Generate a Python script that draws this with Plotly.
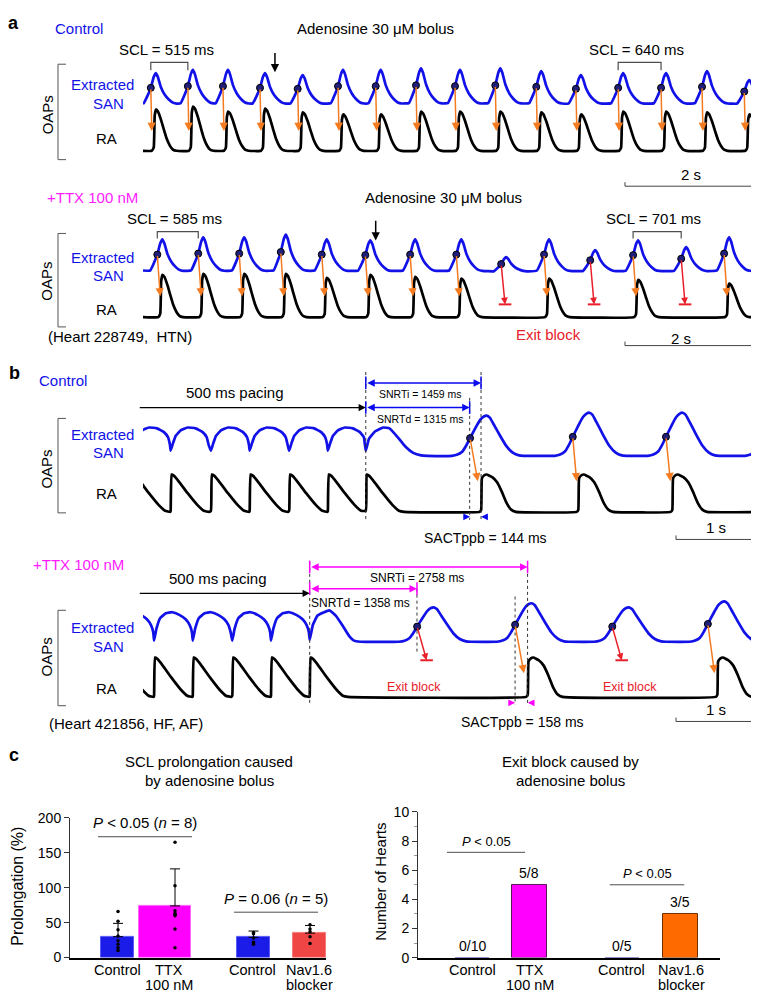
import plotly.graph_objects as go

W, H = 759, 994
FONT = "Liberation Sans, Arial, Helvetica, sans-serif"
BLUE = "#1212E8"
DOTC = "#1F1F7A"
ORANGE = "#F47B20"
RED = "#E8202A"
MAG = "#FF1AFF"
GRAY = "#4D4D4D"

# ================= DATA =================
# ---- Panel a, Control: SAN activation times (s) and relative amplitudes
A1_SAN_T = [0.12, 0.69, 1.23, 1.80, 2.38, 3.00, 3.58, 4.20, 4.80, 5.42, 6.05, 6.66, 7.31, 7.97, 8.60, 9.25]
A1_SAN_AMP = [1.0, 1.1, 1.1, 1.0, 0.94, 1.1, 1.1, 1.15, 1.1, 1.15, 1.06, 0.94, 1.0, 1.0, 1.06, 0.78]
A1_RA_AMP = [1.0, 1.07, 0.95, 1.02, 0.93, 0.88, 0.88, 0.95, 0.95, 0.95, 0.93, 0.88, 0.95, 0.95, 0.93, 0.88]
A1_BOLUS_T = 2.03
A1_SCL_MS = [515, 640]
A1_SCL_BEAT = [0, 12]

# ---- Panel a, +TTX (RA amplitude 0 = exit block)
A2_SAN_T = [0.22, 0.85, 1.48, 2.12, 2.75, 3.42, 4.11, 4.82, 5.51, 6.17, 6.88, 7.54, 8.28, 8.94]
A2_SAN_AMP = [1.0, 1.06, 1.06, 1.15, 1.0, 0.97, 1.0, 1.0, 0.45, 1.0, 0.67, 0.97, 0.76, 1.06]
A2_RA_AMP = [1.0, 1.02, 1.02, 1.02, 0.93, 1.0, 0.95, 0.91, 0.0, 0.91, 0.0, 0.88, 0.0, 0.79]
A2_BOLUS_T = 3.58
A2_SCL_MS = [585, 701]
A2_SCL_BEAT = [0, 11]
A_SACT_S = 0.045
A_SCALEBAR_S = 2.0

# ---- Panel b, Control
B1_PACE_T = [-0.14, 0.35, 0.86, 1.35, 1.85, 2.34, 2.82]
B1_SNRTD_MS = 1315
B1_SNRTI_MS = 1459
B1_SACT_MS = 144
B1_SAN_T = [4.14, 5.44, 6.62, 7.85]
B1_SAN_AMP = [0.95, 1.02, 1.02, 1.0]
B1_CONDUCTED = [True, True, True, False]
B1_RA_T = [4.28, 5.51, 6.70]

# ---- Panel b, +TTX
B2_PACE_T = [-0.35, 0.14, 0.63, 1.13, 1.62, 2.11]
B2_SNRTD_MS = 1358
B2_SNRTI_MS = 2758
B2_SACT_MS = 158
B2_SAN_T = [3.47, 4.71, 5.94, 7.15]
B2_SAN_AMP = [0.92, 1.03, 0.92, 1.08]
B2_CONDUCTED = [False, True, False, True]
B2_RA_T = [4.87, 7.27]
B_SCALEBAR_S = 1.0

# ---- Waveform shapes read from single beats (ms from activation, normalised amplitude)
A_SAN = [(-110, 0.04), (-46, 0.3), (0, 0.53), (46, 0.88), (77, 1.0), (108, 0.88), (154, 0.56),
         (215, 0.31), (277, 0.16), (340, 0.06), (400, 0.03)]
A_RA = [(-30, 0.0), (0, 0.08), (15, 0.85), (35, 1.0), (65, 0.95), (110, 0.76), (155, 0.52),
        (200, 0.29), (250, 0.12), (295, 0.03), (350, 0.0)]
B1_SAN_PACED = [(0, 0.12), (30, 0.3), (63, 0.47), (127, 0.6), (215, 0.67), (316, 0.65), (405, 0.56),
                (456, 0.44), (481, 0.26)]
B1_SAN_RECOV = [(0, 0.12), (40, 0.4), (120, 0.58), (220, 0.67), (300, 0.65), (400, 0.45), (500, 0.22),
                (600, 0.07), (700, 0.01), (780, 0.0)]
B2_SAN_PACED = [(0, 0.03), (30, 0.35), (76, 0.63), (150, 0.76), (230, 0.79), (320, 0.72), (400, 0.6),
                (450, 0.45), (480, 0.25)]
B2_SAN_RECOV = [(0, 0.05), (40, 0.45), (100, 0.7), (250, 0.84), (330, 0.7), (420, 0.42), (500, 0.15),
                (560, 0.03), (640, 0.0)]
B_SAN_SPONT = [(-230, 0.0), (-160, 0.03), (-100, 0.1), (-50, 0.25), (0, 0.44), (70, 0.7), (130, 0.9),
               (175, 0.98), (210, 1.0), (250, 0.95), (300, 0.78), (380, 0.5), (460, 0.24), (540, 0.08),
               (620, 0.01), (680, 0.0)]
B_RA_PACED = [(0, 0.03), (12, 1.0), (40, 0.97), (90, 0.85), (215, 0.5), (340, 0.18), (420, 0.03), (485, 0.0)]
B_RA_SPONT = [(-20, 0.0), (0, 0.05), (10, 0.9), (40, 0.98), (70, 1.0), (140, 0.93), (200, 0.8),
              (260, 0.55), (320, 0.25), (380, 0.06), (440, 0.0)]

# ---- Panel c
C1_LABELS = [["Control"], ["TTX", "100 nM"], ["Control"], ["Nav1.6", "blocker"]]
C1_MEAN = [30, 74, 29, 35]
C1_SD = [19, 53, 9, 11]
C1_POINTS = [[66, 52, 40, 31, 24, 19, 14, 10],
             [165, 103, 67, 63, 62, 60, 41, 14],
             [36, 34, 28, 22, 19],
             [47, 41, 37, 30, 20]]
C1_P_TEXT = ["<i>P</i> < 0.05 (<i>n</i> = 8)", "<i>P</i> = 0.06 (<i>n</i> = 5)"]
C2_LABELS = [["Control"], ["TTX", "100 nM"], ["Control"], ["Nav1.6", "blocker"]]
C2_COUNT = [0, 5, 0, 3]
C2_N = [10, 8, 5, 5]
C2_P_TEXT = ["<i>P</i> < 0.05", "<i>P</i> < 0.05"]

# ================= LAYOUT CONSTANTS =================
X0P, X1P = 135, 757
PAN = {
    'a1': dict(ax=('x', 'y'), zero=137, ppu=42, lo=-0.95, hi=2.2, pxs=65, base=1.12, bs=0.76),
    'a2': dict(ax=('x2', 'y2'), zero=306, ppu=43, lo=-0.8, hi=2.2, pxs=65, base=1.07, bs=0.767),
    'b1': dict(ax=('x3', 'y3'), zero=504, ppu=38, lo=-0.8, hi=3.8, pxs=79, base=1.5, bs=1.13),
    'b2': dict(ax=('x4', 'y4'), zero=692, ppu=40, lo=-0.7, hi=3.5, pxs=79, base=1.4, bs=0.95),
}
for p in PAN.values():
    p['xmax'] = (X1P - X0P) / p['pxs']

fig = go.Figure()
ann = []
shapes = []


def txt(text, x, y, size=15, color='black', bold=False, angle=0, xanchor='center'):
    if bold:
        text = '<b>' + text + '</b>'
    ann.append(dict(text=text, x=x / W, y=1 - y / H, xref='paper', yref='paper', showarrow=False,
                    font=dict(size=size, color=color, family=FONT), xanchor=xanchor,
                    yanchor='middle', textangle=angle))


def arrow(p, x, y, axv, ayv, color, width=1.5, head=2, size=1.0, side='end'):
    xr, yr = p['ax']
    ann.append(dict(text='', x=x, y=y, ax=axv, ay=ayv, xref=xr, yref=yr, axref=xr, ayref=yr,
                    showarrow=True, arrowhead=head, arrowsize=size, arrowwidth=width,
                    arrowcolor=color, arrowside=side, startarrowhead=head, startarrowsize=size))


def line(p, xs, ys, color, width, dash=None, smooth=False):
    xr, yr = p['ax']
    ln = dict(color=color, width=width)
    if dash:
        ln['dash'] = dash
    if smooth:
        ln['shape'] = 'spline'
        ln['smoothing'] = 0.35
    fig.add_trace(go.Scatter(x=xs, y=ys, mode='lines', line=ln, xaxis=xr, yaxis=yr,
                             hoverinfo='skip', showlegend=False))


def markers(p, xs, ys, symbol, size, color, lcolor, lwidth):
    xr, yr = p['ax']
    fig.add_trace(go.Scatter(x=xs, y=ys, mode='markers', xaxis=xr, yaxis=yr, hoverinfo='skip',
                             showlegend=False, cliponaxis=False,
                             marker=dict(symbol=symbol, size=size, color=color,
                                         line=dict(color=lcolor, width=lwidth))))


def build(events, x0, x1):
    evs = sorted(events, key=lambda e: e[0])
    xs, ys = [], []
    for i, (t0, tmpl, sc, off) in enumerate(evs):
        limit = None
        if i + 1 < len(evs):
            limit = evs[i + 1][0] + evs[i + 1][1][0][0] / 1000.0
        for dt, a in tmpl:
            t = t0 + dt / 1000.0
            if limit is not None and t >= limit:
                break
            if xs and t <= xs[-1]:
                continue
            xs.append(t)
            ys.append(off + sc * a)
    if xs[0] > x0:
        xs.insert(0, x0)
        ys.insert(0, ys[0])
    if xs[-1] < x1:
        xs.append(x1)
        ys.append(ys[-1])
    return xs, ys


def scalebar(p, t_end, length, ybar, ytick):
    line(p, [t_end - length, t_end - length, t_end, t_end], [ytick, ybar, ybar, ytick], '#444', 1)


# ---------------- Panel a ----------------
def panel_a(p, san_t, san_amp, ra_amp, tip, dx, eb_tip, eb_dx, bolus_t, bolus_y, scl_ms, scl_beat,
            br_top, br_end):
    a0 = dict(A_SAN)[0]
    ev_s = [(t, A_SAN, p['bs'] * a, p['base']) for t, a in zip(san_t, san_amp)]
    ev_r = [(t + A_SACT_S, A_RA, a, 0.0) for t, a in zip(san_t, ra_amp) if a > 0]
    bx, by = build(ev_s, 0, p['xmax'])
    kx, ky = build(ev_r, 0, p['xmax'])
    line(p, bx, by, BLUE, 2.7, smooth=True)
    line(p, kx, ky, 'black', 2.7, smooth=True)
    dy = [p['base'] + p['bs'] * a * a0 for a in san_amp]
    for t, yv, ra in zip(san_t, dy, ra_amp):
        if ra > 0:
            arrow(p, t + dx, tip, t, yv, ORANGE, width=1.5, size=1.1)
        else:
            arrow(p, t + eb_dx, eb_tip, t, yv, RED, width=1.5, size=0.9)
    eb = [(t + eb_dx, eb_tip) for t, ra in zip(san_t, ra_amp) if ra <= 0]
    if eb:
        markers(p, [e[0] for e in eb], [e[1] for e in eb], 'line-ew', 9, RED, RED, 2)
    markers(p, san_t, dy, 'circle', 7, DOTC, 'black', 1)
    # adenosine bolus arrow
    arrow(p, bolus_t, bolus_y, bolus_t, bolus_y + 0.5, 'black', width=1.5, size=1.1)
    # SCL brackets
    for ms, i in zip(scl_ms, scl_beat):
        t1, t2 = san_t[i], san_t[i + 1]
        line(p, [t1, t1, t2, t2], [br_end, br_top, br_top, br_end], GRAY, 1.2)
        ann.append(dict(text='SCL = %d ms' % ms, x=(t1 + t2) / 2 - 0.05, y=br_top, xref=p['ax'][0],
                        yref=p['ax'][1], showarrow=False, yshift=13,
                        font=dict(size=15, family=FONT, color='black')))


pa1 = PAN['a1']
panel_a(pa1, A1_SAN_T, A1_SAN_AMP, A1_RA_AMP, 0.48, 0.015, 0.3, 0.06, A1_BOLUS_T, 1.9,
        A1_SCL_MS, A1_SCL_BEAT, 2.14, 1.95)
scalebar(pa1, 9.415, A_SCALEBAR_S, -0.857, -0.76)
pa2 = PAN['a2']
panel_a(pa2, A2_SAN_T, A2_SAN_AMP, A2_RA_AMP, 0.49, 0.045, 0.3, 0.06, A2_BOLUS_T, 1.81,
        A2_SCL_MS, A2_SCL_BEAT, 2.02, 1.86)
scalebar(pa2, 9.415, A_SCALEBAR_S, -0.674, -0.58)


# ---------------- Panel b ----------------
def panel_b(p, pace_t, paced_tmpl, recov_tmpl, san_t, san_amp, conducted, ra_t, snrtd, snrti, color,
            tip, eb_tip, eb_dx, y_pace, y_snrti, y_snrtd, y_sact, dotted):
    s0 = dict(B_SAN_SPONT)[0]
    ev_s = [(t, paced_tmpl, p['bs'], p['base']) for t in pace_t[:-1]]
    ev_s.append((pace_t[-1], recov_tmpl, p['bs'], p['base']))
    ev_s += [(t, B_SAN_SPONT, p['bs'] * a, p['base']) for t, a in zip(san_t, san_amp)]
    ev_r = [(t, B_RA_PACED, 1.0, 0.0) for t in pace_t] + [(t, B_RA_SPONT, 1.0, 0.0) for t in ra_t]
    bx, by = build(ev_s, 0, p['xmax'])
    kx, ky = build(ev_r, 0, p['xmax'])
    line(p, bx, by, BLUE, 2.7, smooth=True)
    line(p, kx, ky, 'black', 2.7, smooth=True)
    last = pace_t[-1]
    t_d = last + snrtd / 1000.0
    t_i = last + snrti / 1000.0
    # dotted guide lines
    for xv, ytop, ybot in dotted(last, t_d, t_i):
        line(p, [xv, xv], [ytop, ybot], '#333', 1, dash='dot')
    # arrows between SAN and RA
    ri = 0
    dots_x, dots_y = [], []
    ebx = []
    for t, a, c in zip(san_t, san_amp, conducted):
        if t + 0.215 > p['xmax']:
            continue
        yv = p['base'] + p['bs'] * a * s0
        dots_x.append(t)
        dots_y.append(yv)
        if c:
            r = ra_t[ri]
            ri += 1
            arrow(p, t + 0.7 * (r - t), tip, t, yv, ORANGE, width=1.5, size=1.1)
        else:
            arrow(p, t + eb_dx, eb_tip, t, yv, RED, width=1.5, size=0.9)
            ebx.append(t + eb_dx)
    if ebx:
        markers(p, ebx, [eb_tip] * len(ebx), 'line-ew', 9, RED, RED, 2)
    markers(p, dots_x, dots_y, 'circle', 7, DOTC, 'black', 1)
    # pacing arrow
    arrow(p, last, y_pace, -0.06, y_pace, 'black', width=1.3, size=1.1)
    # SNRT arrows
    arrow(p, t_i, y_snrti, last, y_snrti, color, width=1.5, size=1.0, side='end+start')
    arrow(p, t_d, y_snrtd, last, y_snrtd, color, width=1.5, size=1.0, side='end+start')
    markers(p, [last, t_i, last, t_d], [y_snrti, y_snrti, y_snrtd, y_snrtd], 'line-ns', 9, color, color, 1.5)
    # SACT arrows
    conducted_san = [t for t, c in zip(san_t, conducted) if c][0]
    arrow(p, conducted_san, y_sact, conducted_san - 0.1, y_sact, color, width=1.5, size=0.9)
    arrow(p, ra_t[0], y_sact, ra_t[0] + 0.1, y_sact, color, width=1.5, size=0.9)


pb1 = PAN['b1']
panel_b(pb1, B1_PACE_T, B1_SAN_PACED, B1_SAN_RECOV, B1_SAN_T, B1_SAN_AMP, B1_CONDUCTED, B1_RA_T,
        B1_SNRTD_MS, B1_SNRTI_MS, '#0A0AF0', 0.82, 0.9, 0.12, 2.79, 3.45, 2.79, -0.13,
        lambda last, td, ti: [(last, 3.74, -0.21), (td, 3.05, -0.21), (ti, 3.74, -0.21)])
scalebar(pb1, 7.747, B_SCALEBAR_S, -0.737, -0.63)
pb2 = PAN['b2']
panel_b(pb2, B2_PACE_T, B2_SAN_PACED, B2_SAN_RECOV, B2_SAN_T, B2_SAN_AMP, B2_CONDUCTED, B2_RA_T,
        B2_SNRTD_MS, B2_SNRTI_MS, '#FF00FF', 0.6, 0.93, 0.12, 2.63, 3.3, 2.75, -0.15,
        lambda last, td, ti: [(last, 3.43, -0.2), (td, 2.75, 1.15),
                              (ti - B2_SACT_MS / 1000.0, 2.55, -0.2), (ti, 3.43, -0.2)])
scalebar(pb2, 7.747, B_SCALEBAR_S, -0.625, -0.525)

# ---------------- Panel c ----------------
C1_POS = [0.93, 1.855, 3.584, 4.678]
C1_W = [0.645, 1.016, 0.645, 0.645]
C1_DOTX = [0.938, 2.051, 3.584, 4.688]
C1_LBLX = [0.918, 1.934, 3.574, 4.668]
C1_COL = ['#1C1CE8', '#FF00FF', '#1C1CE8', '#F04545']
C1_LCOL = ['#5A5AF5', '#FF66FF', '#5A5AF5', '#F57A7A']
C1_SIG = [(0.547, 2.383, 173), (3.203, 4.844, 65)]
LBL_Y = [970, 985]

fig.add_trace(go.Bar(x=C1_POS, y=C1_MEAN, width=C1_W, xaxis='x5', yaxis='y5', showlegend=False,
                     marker=dict(color=C1_COL, line=dict(color=C1_LCOL, width=1)), hoverinfo='skip'))
fig.add_trace(go.Scatter(x=C1_DOTX, y=C1_MEAN, mode='markers', xaxis='x5', yaxis='y5', showlegend=False,
                         marker=dict(size=1, opacity=0), hoverinfo='skip',
                         error_y=dict(type='data', symmetric=False, array=C1_SD, arrayminus=[0] * 4,
                                      color='black', thickness=1, width=5)))
for xd, pts in zip(C1_DOTX, C1_POINTS):
    fig.add_trace(go.Scatter(x=[xd] * len(pts), y=pts, mode='markers', xaxis='x5', yaxis='y5',
                             showlegend=False, hoverinfo='skip',
                             marker=dict(size=3.5, color='black')))
for (xa, xb, yv), t in zip(C1_SIG, C1_P_TEXT):
    fig.add_trace(go.Scatter(x=[xa, xb], y=[yv, yv], mode='lines', xaxis='x5', yaxis='y5',
                             showlegend=False, hoverinfo='skip', line=dict(color=GRAY, width=1)))
    ann.append(dict(text=t, x=(xa + xb) / 2, y=yv, xref='x5', yref='y5', showarrow=False, yshift=14,
                    font=dict(size=15, family=FONT, color='black')))
for xl, lines in zip(C1_LBLX, C1_LABELS):
    for k, s in enumerate(lines):
        ann.append(dict(text=s, x=xl, y=1 - LBL_Y[k] / H, xref='x5', yref='paper',
                        xanchor='center', yanchor='middle', showarrow=False,
                        font=dict(size=14.5, family=FONT, color='black')))

C2_POS = [1.073, 2.215, 4.05, 5.214]
C2_W = 0.68
C2_COL = ['#24248C', '#FF00FF', '#24248C', '#FF6A00']
C2_LCOL = ['#24248C', '#5A1A5A', '#24248C', '#6A3000']
C2_SIG = [(0.576, 2.126, 7.23), (3.81, 5.29, 5.0)]
C2_LBLX = [1.073, 2.225, 4.05, 5.234]
fig.add_trace(go.Bar(x=C2_POS, y=C2_COUNT, width=C2_W, xaxis='x6', yaxis='y6', showlegend=False,
                     marker=dict(color=C2_COL, line=dict(color=C2_LCOL, width=[2, 1, 2, 1])),
                     hoverinfo='skip'))
for xp, c, n in zip(C2_POS, C2_COUNT, C2_N):
    ann.append(dict(text='%d/%d' % (c, n), x=xp, y=c, xref='x6', yref='y6', showarrow=False,
                    yshift=12, font=dict(size=14, family=FONT, color='black')))
for (xa, xb, yv), t in zip(C2_SIG, C2_P_TEXT):
    fig.add_trace(go.Scatter(x=[xa, xb], y=[yv, yv], mode='lines', xaxis='x6', yaxis='y6',
                             showlegend=False, hoverinfo='skip', line=dict(color=GRAY, width=1)))
    ann.append(dict(text=t, x=(xa + xb) / 2, y=yv, xref='x6', yref='y6', showarrow=False, yshift=11,
                    font=dict(size=13, family=FONT, color='black')))
for xl, lines in zip(C2_LBLX, C2_LABELS):
    for k, s in enumerate(lines):
        ann.append(dict(text=s, x=xl, y=1 - LBL_Y[k] / H, xref='x6', yref='paper',
                        xanchor='center', yanchor='middle', showarrow=False,
                        font=dict(size=14.5, family=FONT, color='black')))

# ================= TEXT LABELS =================
txt('a', 5, 7, size=18, bold=True)
txt('b', 6, 363, size=18, bold=True)
txt('c', 6, 751, size=18, bold=True)

# panel a top
txt('Control', 71, 13, color=BLUE)
txt('Adenosine 30 \u03bcM bolus', 367, 13)
txt('2 s', 683, 161)
# panel a bottom
txt('+TTX 100 nM', 84, 184, color=MAG)
txt('Adenosine 30 \u03bcM bolus', 435, 184)
txt('Exit block', 540, 324, color=RED)
txt('2 s', 673, 328)
txt('(Heart 228749,  HTN)', 112, 326)
# panel b top
txt('Control', 55, 370, color=BLUE)
txt('500 ms pacing', 227, 383)
txt('SNRTi = %d ms' % B1_SNRTI_MS, 412, 384, size=10.5)
txt('SNRTd = %d ms' % B1_SNRTD_MS, 412, 410, size=10.5)
txt('SACTppb = %d ms' % B1_SACT_MS, 477, 531, size=14)
txt('1 s', 708, 520)
# panel b bottom
txt('+TTX 100 nM', 70, 557, color=MAG)
txt('500 ms pacing', 210, 572)
txt('SNRTi = %d ms' % B2_SNRTI_MS, 409, 571, size=12)
txt('SNRTd = %d ms' % B2_SNRTD_MS, 352, 597, size=12)
txt('Exit block', 406, 682, color=RED, size=12.5)
txt('Exit block', 622, 682, color=RED, size=12.5)
txt('(Heart 421856, HF, AF)', 118, 719)
txt('SACTppb = %d ms' % B2_SACT_MS, 514, 718, size=14)
txt('1 s', 708, 705)

# trace row labels and OAPs brackets
for (ext, san, ra, oaps, btop, bbot) in [(70, 89, 125, 101, 49, 146), (245, 264, 298, 270, 221, 316),
                                         (425, 444, 485, 461, 409, 505), (622, 641, 683, 652, 604, 701)]:
    txt('Extracted', 94, ext, color=BLUE)
    txt('SAN', 100, san, color=BLUE)
    txt('RA', 98, ra)
    txt('OAPs', 39, oaps, angle=-90)
    shapes.append(dict(type='path', xref='paper', yref='paper',
                       path='M %f,%f L %f,%f L %f,%f L %f,%f' % (58 / W, 1 - btop / H, 50 / W, 1 - btop / H,
                                                                  50 / W, 1 - bbot / H, 58 / W, 1 - bbot / H),
                       line=dict(color='#555', width=1)))

# panel c titles
txt('SCL prolongation caused', 201, 758)
txt('by adenosine bolus', 201, 777)
txt('Exit block caused by', 562, 758)
txt('adenosine bolus', 562, 777)
txt('Prolongation (%)', 10, 885, size=16, angle=-90)
txt('Number of Hearts', 373, 880, size=15, angle=-90)

# ================= AXES =================
def ydom(p):
    top = p['zero'] - p['hi'] * p['ppu']
    bot = p['zero'] - p['lo'] * p['ppu']
    return [1 - bot / H, 1 - top / H]


layout_axes = {}
for i, key in enumerate(['a1', 'a2', 'b1', 'b2']):
    p = PAN[key]
    sfx = '' if i == 0 else str(i + 1)
    layout_axes['xaxis' + sfx] = dict(domain=[X0P / W, X1P / W], range=[0, p['xmax']], visible=False,
                                      anchor='y' + sfx, fixedrange=True)
    layout_axes['yaxis' + sfx] = dict(domain=ydom(p), range=[p['lo'], p['hi']], visible=False,
                                      anchor='x' + sfx, fixedrange=True)

layout_axes['xaxis5'] = dict(domain=[62 / W, 318 / W], range=[0, 5], anchor='y5', showline=True,
                             linecolor='black', linewidth=1.5, ticks='', showticklabels=False,
                             showgrid=False, zeroline=False, fixedrange=True)
layout_axes['yaxis5'] = dict(domain=[1 - 957 / H, 1 - 815 / H], range=[0, 200], anchor='x5',
                             tickvals=[0, 50, 100, 150, 200], ticks='outside', ticklen=5,
                             tickcolor='#333', showline=True, linecolor='#333', linewidth=1,
                             showgrid=False, zeroline=False,
                             tickfont=dict(size=14, family=FONT, color='black'), fixedrange=True)
layout_axes['xaxis6'] = dict(domain=[410 / W, 712 / W], range=[0, 6], anchor='y6', showline=True,
                             linecolor='black', linewidth=1.5, ticks='', showticklabels=False,
                             showgrid=False, zeroline=False, fixedrange=True)
layout_axes['yaxis6'] = dict(domain=[1 - 957 / H, 1 - 809 / H], range=[0, 10], anchor='x6',
                             tickvals=[0, 2, 4, 6, 8, 10], ticks='outside', ticklen=5,
                             tickcolor='#333', showline=True, linecolor='#333', linewidth=1,
                             minor=dict(ticks='outside', tickvals=[1, 3, 5, 7, 9], ticklen=3,
                                        tickcolor='#999'),
                             showgrid=False, zeroline=False,
                             tickfont=dict(size=14, family=FONT, color='black'), fixedrange=True)

fig.update_layout(width=W, height=H, margin=dict(l=0, r=0, t=0, b=0), autosize=False,
                  paper_bgcolor='white', plot_bgcolor='rgba(0,0,0,0)', showlegend=False,
                  font=dict(family=FONT, size=15, color='black'), bargap=0,
                  annotations=ann, shapes=shapes, **layout_axes)

fig.write_html('out.html', config={'displayModeBar': False})
